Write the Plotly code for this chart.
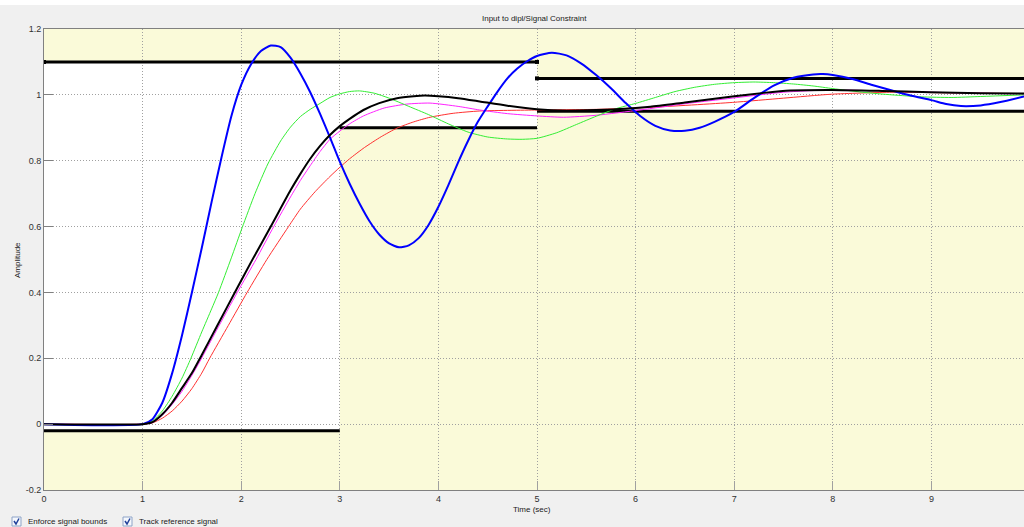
import plotly.graph_objects as go

# ---------------- data ----------------
blue_t = [0, 1.0, 1.1, 1.2, 1.3, 1.4, 1.5, 1.6, 1.7, 1.8, 1.9, 2.0, 2.1, 2.2, 2.3, 2.4, 2.5, 2.6, 2.7, 2.8, 2.9, 3.0, 3.1, 3.2, 3.3, 3.4, 3.5, 3.6, 3.7, 3.8, 3.9, 4.0, 4.1, 4.2, 4.3, 4.4, 4.5, 4.6, 4.7, 4.8, 4.9, 5.0, 5.15, 5.3, 5.45, 5.6, 5.75, 5.9, 6.05, 6.2, 6.35, 6.5, 6.65, 6.8, 7.0, 7.2, 7.4, 7.6, 7.8, 7.9, 8.0, 8.2, 8.4, 8.6, 8.8, 9.0, 9.15, 9.3, 9.5, 9.7, 9.94]
blue_y = [0, 0, 0.015, 0.065, 0.155, 0.27, 0.4, 0.535, 0.675, 0.81, 0.935, 1.03, 1.093, 1.133, 1.15, 1.145, 1.113, 1.065, 1.008, 0.942, 0.871, 0.797, 0.73, 0.67, 0.617, 0.576, 0.549, 0.537, 0.543, 0.565, 0.605, 0.66, 0.725, 0.795, 0.86, 0.918, 0.965, 1.01, 1.05, 1.08, 1.102, 1.118, 1.128, 1.12, 1.095, 1.06, 1.02, 0.975, 0.935, 0.906, 0.892, 0.891, 0.9, 0.918, 0.948, 0.99, 1.028, 1.052, 1.062, 1.063, 1.06, 1.048, 1.03, 1.013, 0.997, 0.984, 0.972, 0.966, 0.968, 0.978, 0.995]

green_t = [0, 1.0, 1.1, 1.2, 1.3, 1.4, 1.49, 1.6, 1.7, 1.77, 1.9, 2.01, 2.14, 2.27, 2.4, 2.5, 2.6, 2.7, 2.8, 2.9, 3.0, 3.1, 3.2, 3.35, 3.5, 3.7, 3.9, 4.1, 4.3, 4.5, 4.7, 4.85, 5.0, 5.2, 5.4, 5.6, 5.8, 6.0, 6.2, 6.4, 6.6, 6.8, 7.0, 7.2, 7.4, 7.6, 7.8, 8.0, 8.3, 8.6, 8.9, 9.2, 9.5, 9.94]
green_y = [0, 0, 0.01, 0.04, 0.085, 0.14, 0.2, 0.28, 0.35, 0.4, 0.505, 0.597, 0.7, 0.79, 0.86, 0.902, 0.934, 0.956, 0.974, 0.992, 1.003, 1.01, 1.012, 1.005, 0.99, 0.965, 0.94, 0.912, 0.887, 0.872, 0.866, 0.865, 0.868, 0.885, 0.91, 0.935, 0.958, 0.974, 0.992, 1.01, 1.023, 1.032, 1.037, 1.039, 1.037, 1.033, 1.027, 1.019, 1.008, 1.0, 0.994, 0.992, 0.995, 1.0]

black_t = [0, 1.0, 1.1, 1.2, 1.3, 1.4, 1.5, 1.6, 1.75, 1.95, 2.1, 2.3, 2.5, 2.6, 2.7, 2.8, 2.9, 3.0, 3.1, 3.24, 3.4, 3.58, 3.75, 3.86, 4.0, 4.2, 4.42, 4.7, 5.0, 5.3, 5.6, 5.9, 6.15, 6.5, 6.98, 7.3, 7.57, 7.99, 8.5, 8.99, 9.5, 9.94]
black_y = [0, 0, 0.006, 0.03, 0.065, 0.11, 0.155, 0.21, 0.295, 0.408, 0.492, 0.6, 0.71, 0.76, 0.806, 0.845, 0.878, 0.905, 0.927, 0.954, 0.975, 0.99, 0.996, 0.998, 0.996, 0.99, 0.98, 0.967, 0.956, 0.952, 0.954, 0.958, 0.964, 0.977, 0.995, 1.006, 1.013, 1.015, 1.012, 1.008, 1.005, 1.004]

magenta_t = [0, 1.0, 1.1, 1.2, 1.3, 1.4, 1.5, 1.58, 1.75, 1.96, 2.15, 2.33, 2.5, 2.6, 2.7, 2.8, 2.9, 3.0, 3.1, 3.24, 3.45, 3.68, 3.915, 4.2, 4.42, 4.7, 5.0, 5.27, 5.6, 6.045, 6.5, 6.98, 7.5, 7.99, 8.5, 8.99, 9.5, 9.94]
magenta_y = [0, 0, 0.005, 0.027, 0.06, 0.1, 0.148, 0.19, 0.285, 0.4, 0.5, 0.6, 0.69, 0.74, 0.785, 0.828, 0.865, 0.89, 0.912, 0.936, 0.96, 0.972, 0.975, 0.965, 0.954, 0.943, 0.936, 0.932, 0.938, 0.954, 0.973, 0.99, 1.008, 1.015, 1.012, 1.008, 1.005, 1.003]

red_t = [0, 1.0, 1.1, 1.2, 1.3, 1.4, 1.5, 1.6, 1.68, 1.87, 2.06, 2.26, 2.48, 2.6, 2.75, 2.9, 3.0, 3.1, 3.25, 3.42, 3.58, 3.75, 3.915, 4.15, 4.42, 5.0, 5.6, 6.15, 6.98, 7.5, 7.99, 8.6, 9.2, 9.94]
red_y = [0, 0, 0.004, 0.018, 0.04, 0.07, 0.108, 0.155, 0.2, 0.3, 0.4, 0.5, 0.6, 0.653, 0.706, 0.752, 0.78, 0.806, 0.84, 0.873, 0.899, 0.918, 0.932, 0.944, 0.951, 0.954, 0.956, 0.962, 0.977, 0.99, 1.002, 1.008, 1.006, 1.004]

# signal bounds: (t_start, t_end, value)
upper_start = [0, 5]
upper_end = [5, 10]
upper_val = [1.1, 1.05]
lower_start = [0, 3, 5]
lower_end = [3, 5, 10]
lower_val = [-0.02, 0.9, 0.95]

x_ticks = [0, 1, 2, 3, 4, 5, 6, 7, 8, 9]
y_ticks = [-0.2, 0, 0.2, 0.4, 0.6, 0.8, 1.0, 1.2]
y_tick_text = ["-0.2", "0", "0.2", "0.4", "0.6", "0.8", "1", "1.2"]

title_text = "Input to dipl/Signal Constraint"
x_title = "Time (sec)"
y_title = "Amplitude"
check_labels = ["Enforce signal bounds", "Track reference signal"]

# ---------------- figure ----------------
fig = go.Figure()

# feasible (white) regions from bounds
breaks = sorted(set(upper_start + upper_end + lower_start + lower_end))
def seg_val(starts, ends, vals, t):
    for s, e, v in zip(starts, ends, vals):
        if s <= t < e:
            return v
    return None
for a, b in zip(breaks[:-1], breaks[1:]):
    mid = 0.5 * (a + b)
    u = seg_val(upper_start, upper_end, upper_val, mid)
    l = seg_val(lower_start, lower_end, lower_val, mid)
    fig.add_shape(type="rect", xref="x", yref="y", x0=a, x1=b, y0=l, y1=u,
                  fillcolor="white", line=dict(width=0), layer="below")

# bound lines
for s, e, v in zip(upper_start, upper_end, upper_val):
    fig.add_trace(go.Scatter(x=[s, e], y=[v, v], mode="lines+markers",
                             line=dict(color="black", width=3),
                             marker=dict(symbol="square", size=4, color="black"),
                             showlegend=False, hoverinfo="skip"))
for s, e, v in zip(lower_start, lower_end, lower_val):
    fig.add_trace(go.Scatter(x=[s, e], y=[v, v], mode="lines",
                             line=dict(color="black", width=3),
                             showlegend=False, hoverinfo="skip"))

series = [
    (red_t, red_y, "#FF3030", 1),
    (magenta_t, magenta_y, "#FF22FF", 1),
    (green_t, green_y, "#33EE33", 1),
    (blue_t, blue_y, "#0000FF", 2),
    (black_t, black_y, "#000000", 2),
]
for t, y, c, w in series:
    fig.add_trace(go.Scatter(x=t, y=y, mode="lines",
                             line=dict(color=c, width=w, shape="spline", smoothing=0.6),
                             showlegend=False, hoverinfo="skip"))

W, H = 1024, 527
ml, mr, mt, mb = 44, 0, 29, 37
pw, ph = W - ml - mr, H - mt - mb
def px(xp):
    return (xp - ml) / pw
def py(yp):
    return (H - mb - yp) / ph

# white strip at very top
fig.add_shape(type="rect", xref="paper", yref="paper", x0=px(0), x1=1.0,
              y0=py(5), y1=py(0) + 0.01, fillcolor="white", line=dict(width=0), layer="above")

font_fam = "Liberation Sans, Arial, sans-serif"
fig.update_layout(
    width=W, height=H,
    margin=dict(l=ml, r=mr, t=mt, b=mb),
    paper_bgcolor="#F0F0F0",
    plot_bgcolor="#FAFAD9",
    showlegend=False,
    font=dict(family=font_fam, size=8, color="#303030"),
    xaxis=dict(range=[0, (W - ml) / 98.6], tickvals=x_ticks, ticks="inside", ticklen=9,
               tickcolor="#A0A0A0", showgrid=True, gridcolor="#A0A0A0", griddash="1px,2px",
               zeroline=False, showline=True, linecolor="#808080", mirror=True,
               tickfont=dict(size=9, color="#303030")),
    yaxis=dict(range=[-0.2, 1.2], tickvals=y_ticks, ticktext=y_tick_text, ticks="inside",
               ticklen=9, tickcolor="#808080", showgrid=True, gridcolor="#A0A0A0",
               griddash="1px,2px", zeroline=False, showline=True, linecolor="#808080",
               tickfont=dict(size=9, color="#303030")),
)

fig.add_annotation(text=title_text, xref="paper", yref="paper", x=px(534), y=py(19),
                   xanchor="center", yanchor="middle",
                   showarrow=False, font=dict(size=8, color="#202020"))
fig.add_annotation(text=x_title, xref="paper", yref="paper", x=px(532), y=py(510),
                   xanchor="center", yanchor="middle",
                   showarrow=False, font=dict(size=8, color="#202020"))
fig.add_annotation(text=y_title, xref="paper", yref="paper", x=px(17), y=py(260),
                   xanchor="center", yanchor="middle",
                   textangle=-90, showarrow=False, font=dict(size=8, color="#202020"))

# checkboxes
for lbl, bx, tx in zip(check_labels, [12, 123], [26, 137]):
    fig.add_shape(type="rect", xref="paper", yref="paper", x0=px(bx), x1=px(bx + 9),
                  y0=py(526), y1=py(517), fillcolor="#F4F7FC",
                  line=dict(color="#8EA4C8", width=1))
    fig.add_shape(type="path", xref="paper", yref="paper",
                  path="M %f,%f L %f,%f L %f,%f" % (px(bx + 2), py(521), px(bx + 4), py(524),
                                                   px(bx + 7), py(518.5)),
                  line=dict(color="#21409A", width=1.5))
    fig.add_annotation(text=lbl, xref="paper", yref="paper", x=px(tx), y=py(521.5),
                       xanchor="left", yanchor="middle", showarrow=False,
                       font=dict(size=8, color="#202020"))

fig.write_html("out.html", config={"displayModeBar": False},
               post_script="document.body.style.margin='0px';document.body.style.padding='0px';")
